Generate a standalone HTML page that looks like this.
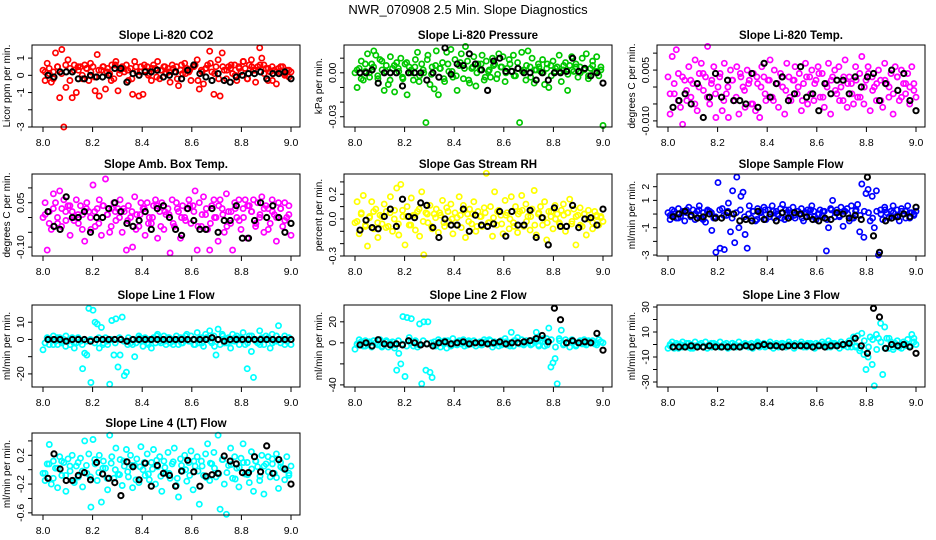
<!DOCTYPE html>
<html><head><meta charset="utf-8"><style>
html,body{margin:0;padding:0;background:#fff;}
svg{display:block;font-family:"Liberation Sans",sans-serif;}
</style></head><body>
<svg id="chart" width="936" height="540" viewBox="0 0 936 540" xmlns="http://www.w3.org/2000/svg">
<rect width="936" height="540" fill="#fff"/>
<text x="468" y="14" text-anchor="middle" font-size="13">NWR_070908  2.5 Min. Slope Diagnostics</text>
</svg>
<script>
const xTicks=[8.0,8.2,8.4,8.6,8.8,9.0];
const xTickLabels=["8.0","8.2","8.4","8.6","8.8","9.0"];
const xStart=8.0, xEnd=9.0, blackStart=8.02, blackStep=0.0245;

const co2Vals=[0.3,-0.3,0.7,0.1,-0.4,0.2,1.3,0.5,-1.3,1.5,-3.0,-0.7,0.9,0.4,-1.3,0.6,-1.0,0.3,0.5,-0.2,0.6,0.4,-0.3,0.2,0.5,-0.9,1.2,-1.2,0.3,0.5,-0.8,0.4,0.1,0.6,-0.2,0.8,-0.9,0.3,0.5,0.2,0.6,-0.3,0.4,-1.1,0.8,0.2,-1.2,0.5,-1.1,0.3,0.5,0.1,-0.3,0.6,0.4,0.8,-0.2,0.3,0.5,0.1,0.4,-0.4,0.6,0.2,0.5,-0.6,0.3,0.1,0.7,0.4,0.2,-0.3,0.5,0.6,0.9,-0.8,0.3,-0.5,0.4,0.6,1.4,0.2,-1.1,0.5,0.9,-1.2,1.3,0.3,-0.2,0.5,0.4,0.1,0.6,-0.3,0.5,0.2,0.8,0.4,-0.2,0.6,0.9,0.3,-0.4,0.5,1.6,1.0,0.6,0.4,-0.3,0.2,0.5,0.3,-0.5,0.4,0.2,0.5,0.1,0.3,-0.1,0.2];
const co2Core=[0.2,0.4,-0.2,0.5,0.1,0.6,-0.3,0.3,0.5,0.0,0.4,0.7,-0.1,0.3,0.5,0.2,-0.3,0.6,0.1,0.4,0.3,-0.2,0.5,0.2,0.6,0.0,0.4,-0.1,0.3,0.5,0.2,0.4,-0.2,0.6,0.1,0.3,0.5,-0.3,0.2,0.4,0.7,0.1,-0.2,0.5,0.3,0.6,0.0,0.4,0.8,-0.2,0.5,0.3,0.6,0.1,0.4,-0.3,0.2,0.5,0.0,0.3];
const co2Black=[0.0,-0.1,0.2,0.2,0.2,-0.2,-0.2,0.0,-0.1,-0.1,0.0,0.4,0.4,-0.4,0.1,0.0,0.2,0.2,0.3,-0.1,0.0,0.2,-0.2,0.3,0.6,0.1,-0.1,-0.3,0.1,-0.3,-0.4,-0.1,0.0,0.1,0.1,0.2,-0.2,0.1,0.1,0.2,-0.2];
const co2Ticks=[-3,-2,-1,0,1];
const co2TickLabels=["-3","","-1","0","1"];

const presVals=[0.000,-0.010,0.003,0.008,-0.005,0.001,0.013,-0.003,0.006,0.015,0.012,-0.004,0.009,0.002,-0.012,0.005,-0.008,0.011,0.003,-0.013,0.007,0.001,0.010,-0.004,0.006,-0.015,0.004,0.002,-0.005,0.009,0.014,-0.002,0.006,0.000,-0.034,0.012,-0.008,0.004,-0.011,0.015,-0.015,0.003,0.007,-0.006,0.014,0.001,0.016,-0.003,0.009,-0.012,0.005,0.013,-0.004,0.018,0.008,-0.007,0.003,0.011,-0.009,0.006,0.002,0.012,-0.005,0.008,0.001,-0.003,0.010,0.006,-0.004,0.013,0.004,0.011,-0.006,0.003,0.009,0.001,0.012,-0.002,0.007,-0.034,0.014,0.002,-0.005,0.015,0.004,0.010,-0.007,0.002,0.006,0.001,0.009,-0.008,0.003,-0.010,0.005,0.008,0.001,0.004,0.012,-0.006,0.002,0.007,-0.012,0.005,0.011,0.001,0.006,-0.003,0.004,0.010,0.002,0.013,-0.004,0.003,0.008,0.001,0.011,-0.002,0.004,-0.036];
const presCore=[0.002,-0.004,0.006,0.000,0.004,-0.002,0.008,0.001,-0.005,0.005,0.003,-0.003,0.007,0.000,0.004,-0.006,0.002,0.009,-0.001,0.005,0.003,-0.004,0.006,0.001,-0.002,0.007,0.003,-0.005,0.004,0.000,0.006,-0.003,0.002,0.005,-0.001,0.004,0.000,0.006,-0.002,0.003,0.001,0.005,-0.003,0.002,0.004,0.000,0.006,-0.002,0.003,0.001,0.005,-0.001,0.002,0.004,0.000,0.003,-0.002,0.005,0.001,0.002];
const presBlack=[0.000,0.000,0.002,-0.007,0.000,0.000,0.000,-0.009,0.000,0.000,0.000,-0.005,0.000,-0.003,0.017,-0.001,0.006,0.005,0.013,0.006,0.002,-0.012,0.008,0.010,0.001,0.001,0.003,0.000,0.000,-0.005,0.000,-0.005,0.000,0.000,0.001,0.010,0.001,0.003,-0.002,0.000,-0.007];
const presTicks=[-0.03,-0.02,-0.01,0.00,0.01];
const presTickLabels=["-0.03","","","0.00",""];

const tempVals=[0.003,-0.008,0.009,-0.002,0.011,0.004,-0.006,-0.011,0.002,-0.004,0.006,-0.003,0.001,0.008,-0.007,0.004,0.007,-0.001,0.003,0.012,-0.005,0.002,0.006,-0.009,0.000,0.004,-0.007,0.007,-0.002,-0.009,0.005,0.002,-0.004,0.006,-0.008,0.003,0.000,-0.006,0.005,0.002,-0.005,0.004,-0.007,0.001,-0.009,0.006,0.003,-0.004,0.002,0.008,-0.003,0.005,0.001,-0.006,0.004,0.000,-0.008,0.007,0.003,-0.004,0.002,0.006,-0.002,0.004,-0.007,0.001,0.007,-0.005,0.003,0.005,-0.004,0.002,0.006,-0.003,0.004,-0.006,0.001,0.007,-0.008,0.003,0.005,-0.002,0.006,0.000,-0.004,0.008,-0.006,0.003,0.001,-0.005,0.006,-0.003,0.004,0.009,-0.005,0.002,0.006,-0.007,0.003,0.000,-0.004,0.005,0.002,-0.006,0.007,0.001,-0.003,0.004,-0.008,0.006,0.003,-0.004,0.005,0.001,-0.002,0.004,-0.005,0.006,0.001,-0.003];
const tempCore=[-0.002,0.001,-0.004,0.003,-0.001,0.002,-0.005,0.000,0.004,-0.003,0.001,-0.002,0.003,-0.004,0.000,0.002,-0.003,0.004,-0.001,0.001,-0.005,0.003,0.000,-0.002,0.002,-0.004,0.001,0.003,-0.001,-0.003,0.002,0.000,-0.004,0.003,-0.002,0.001,0.004,-0.003,0.000,0.002,-0.001,-0.004,0.003,0.001,-0.002,0.002,-0.003,0.000,0.004,-0.001,0.001,-0.004,0.002,0.000,-0.002,0.003,-0.003,0.001,0.000,-0.001];
const tempBlack=[-0.006,-0.004,-0.002,-0.005,0.001,-0.009,-0.003,0.004,-0.003,0.002,-0.004,-0.004,-0.005,0.004,-0.006,0.007,-0.003,0.001,0.003,-0.004,-0.002,0.006,-0.003,-0.002,-0.007,0.001,-0.002,0.002,0.002,-0.002,0.003,0.000,0.003,0.004,-0.004,0.001,0.005,-0.001,0.004,-0.004,-0.007];
const tempTicks=[-0.010,-0.005,0.000,0.005,0.010];
const tempTickLabels=["-0.010","","","0.005",""];

const ambVals=[0.0,0.05,-0.11,0.02,-0.04,0.08,0.05,-0.02,0.09,0.03,0.06,-0.01,0.04,-0.06,0.02,0.00,0.06,-0.02,0.04,0.01,-0.08,0.05,0.02,-0.04,0.11,-0.03,0.03,0.06,-0.06,0.04,0.13,0.01,-0.05,0.03,0.05,-0.01,0.03,0.06,-0.05,0.02,-0.11,0.04,0.00,-0.10,0.07,0.01,-0.03,0.05,0.03,-0.06,0.05,0.00,-0.02,0.04,0.06,-0.07,0.02,0.05,-0.04,0.01,0.03,-0.12,0.06,-0.03,0.05,0.02,-0.07,0.04,0.00,0.03,0.06,-0.02,0.04,0.09,-0.11,0.05,-0.03,0.07,0.01,-0.04,-0.11,0.04,0.06,0.00,-0.08,0.06,0.03,-0.05,0.08,0.02,-0.02,-0.11,0.05,0.00,0.06,-0.04,0.03,0.06,-0.07,0.04,0.02,0.06,-0.03,0.05,0.00,0.07,-0.05,0.04,0.03,-0.02,0.06,0.01,-0.08,0.05,0.03,-0.03,0.05,0.00,0.04,-0.06];
const ambCore=[0.01,-0.02,0.03,0.00,-0.03,0.02,0.04,-0.01,0.01,-0.04,0.03,0.00,0.02,-0.02,0.04,0.01,-0.03,0.02,0.00,0.03,-0.01,0.02,-0.04,0.01,0.03,-0.02,0.00,0.04,-0.03,0.02,0.01,-0.02,0.03,0.00,-0.01,0.04,0.02,-0.03,0.01,0.03,-0.02,0.00,0.04,0.01,-0.03,0.02,0.03,-0.01,0.00,0.04,0.02,-0.02,0.01,0.03,-0.04,0.02,0.00,0.03,-0.01,0.01];
const ambBlack=[0.02,-0.03,-0.04,0.07,0.00,0.00,0.02,-0.05,0.00,0.00,0.03,0.05,0.02,-0.02,-0.03,-0.01,0.02,-0.04,0.03,0.04,0.00,-0.04,-0.06,0.03,-0.01,-0.04,-0.04,0.03,-0.05,-0.01,-0.01,0.04,-0.07,-0.07,-0.01,0.05,0.00,0.04,0.00,-0.05,-0.02];
const ambTicks=[-0.10,-0.05,0.00,0.05,0.10];
const ambTickLabels=["-0.10","","","0.05",""];

const rhVals=[-0.03,0.14,-0.12,0.05,0.19,-0.05,-0.22,0.02,0.14,-0.08,0.08,-0.15,0.03,-0.04,0.12,0.06,-0.06,0.18,-0.10,0.07,0.25,-0.13,0.28,0.02,-0.21,0.10,-0.05,0.17,0.03,-0.09,0.06,-0.14,0.22,-0.29,0.05,-0.03,0.11,-0.08,0.04,0.08,-0.11,0.03,0.15,-0.06,0.09,-0.02,0.12,-0.12,0.05,0.01,0.18,-0.07,0.11,-0.15,0.04,0.08,-0.04,0.14,-0.10,0.06,0.02,-0.06,0.09,0.37,-0.03,0.10,-0.14,0.22,-0.05,0.07,0.03,-0.12,0.15,0.05,-0.08,0.18,-0.03,0.10,-0.11,0.06,0.19,-0.06,0.12,0.02,-0.09,0.08,0.23,-0.13,0.04,0.10,-0.05,0.14,-0.17,0.06,0.02,-0.08,0.11,0.04,-0.03,0.07,0.12,-0.10,0.05,0.16,-0.04,0.08,-0.21,0.03,0.09,-0.06,0.04,-0.13,0.07,0.01,-0.08,0.06,0.03,-0.05,0.02,-0.02];
const rhCore=[-0.02,0.04,-0.06,0.01,0.06,-0.03,0.02,-0.07,0.05,0.00,-0.04,0.07,0.02,-0.05,0.03,0.08,-0.02,0.04,-0.06,0.01,0.05,-0.03,0.06,0.00,-0.05,0.03,0.07,-0.02,0.04,-0.06,0.02,0.05,-0.03,0.01,0.06,-0.04,0.03,0.00,-0.06,0.04,0.07,-0.02,0.02,-0.05,0.05,0.01,-0.03,0.06,0.00,-0.04,0.03,0.05,-0.02,0.02,-0.05,0.04,0.00,-0.03,0.02,0.01];
const rhBlack=[-0.09,-0.01,-0.07,-0.08,0.02,0.08,-0.06,0.16,0.02,0.01,0.13,0.11,-0.07,-0.15,0.00,-0.05,-0.05,0.08,-0.10,0.03,-0.05,-0.06,-0.04,0.06,-0.14,0.06,-0.05,-0.05,0.07,-0.15,0.01,-0.21,0.09,-0.06,-0.06,0.11,-0.07,0.00,0.01,-0.05,0.08];
const rhTicks=[-0.3,-0.2,-0.1,0.0,0.1,0.2,0.3];
const rhTickLabels=["-0.3","","","0.0","","0.2",""];

const sfVals=[0.1,-0.4,0.3,0.0,-0.3,0.4,-0.2,0.2,-0.5,0.1,0.5,-0.1,0.3,-0.4,0.2,0.6,-0.3,0.1,-0.6,0.3,0.2,-1.2,-0.3,-2.8,2.3,-2.5,0.4,-2.6,-0.1,0.8,-1.3,1.7,-2.1,2.7,-1.0,1.3,1.6,-1.5,-2.5,0.6,-0.3,0.2,-0.5,0.4,0.1,-0.2,0.5,-0.4,0.3,0.0,0.6,-0.3,0.2,-0.1,0.4,0.7,-0.4,0.1,0.3,-0.2,0.5,-0.3,0.2,0.0,0.4,-0.5,0.1,0.3,-0.2,0.6,0.2,-0.4,0.0,0.3,-0.1,0.2,-2.7,-1.0,0.4,1.0,-0.2,0.3,-0.1,0.5,-0.9,0.2,0.4,-0.5,0.6,-0.3,0.2,0.7,-1.3,2.2,-1.7,1.5,1.8,-0.5,1.3,-1.0,1.7,-3.0,0.3,-0.4,0.5,0.1,-0.3,0.2,0.6,-0.2,0.3,-0.5,0.4,0.0,0.2,0.6,-0.3,0.1,-0.1,0.2];
const sfCore=[-0.1,0.2,-0.3,0.1,0.3,-0.2,0.0,0.3,-0.4,0.2,0.1,-0.2,0.3,-0.1,0.2,-0.3,0.1,0.3,-0.2,0.0,0.2,-0.4,0.1,0.3,-0.2,0.2,0.0,-0.3,0.3,0.1,-0.1,0.2,-0.3,0.1,0.3,-0.2,0.0,0.2,-0.4,0.3,0.1,-0.2,0.2,0.0,-0.3,0.3,-0.1,0.2,0.1,-0.3,0.2,0.0,0.3,-0.2,0.1,-0.1,0.2,-0.3,0.1,0.0];
const sfBlack=[-0.2,0.0,0.2,-0.1,-0.3,-0.2,0.0,-0.3,-0.3,0.1,0.0,-0.5,-0.4,-0.5,0.2,-0.4,0.0,-0.5,0.1,-0.3,0.1,0.0,-0.2,-0.4,-0.5,-0.3,-0.4,0.1,0.0,-0.3,-0.1,-0.4,2.7,-1.6,-2.8,-0.5,-0.3,-0.2,0.0,-0.2,0.5];
const sfTicks=[-3,-2,-1,0,1,2];
const sfTickLabels=["-3","","-1","","1","2"];

const l1Vals=[-6,-2,1,-3,0,2,-1,-3,1,-2,0,2,-1,-3,1,-5,-2,0,-1,-17,-8,-9,18,-25,17,10,9,-5,7,-2,1,-3,-26,11,-9,12,-16,-9,13,-21,-19,1,-2,-3,-10,0,2,-1,-4,1,-2,0,-5,1,-2,3,-1,0,2,-3,1,-2,0,-1,2,-3,1,-2,0,3,-1,2,0,-3,4,-2,1,-4,3,0,5,-2,2,-9,6,-3,3,-2,0,1,-5,3,-1,2,0,1,4,-3,-17,2,-7,-22,0,-2,5,1,-3,2,0,-5,3,-1,2,8,-2,0,2,-1,1,-3];
const l1Core=[-2,0,-3,1,-1,-4,0,-2,1,-3,-1,0,-2,1,-3,-1,0,-2,1,-1,-3,0,-2,1,-1,-3,0,2,-2,-1,1,-3,0,-2,2,-1,-3,0,-2,1,-1,-4,0,2,-2,-1,1,-3,0,-2,2,-1,-3,0,1,-2,-1,0,-3,1];
const l1Black=[0,0,0,-1,0,0,0,-1,0,0,0,0,0,-1,0,0,0,0,0,0,0,0,0,0,0,0,0,1,0,-1,0,0,0,0,0,0,0,0,0,0,0];
const l1Ticks=[-20,-10,0,10];
const l1TickLabels=["-20","","0","10"];

const l2Vals=[-6,-1,3,0,-3,2,-1,1,-4,2,0,-2,3,-3,-1,2,-4,0,1,-5,-26,-10,-20,25,-32,24,5,23,-3,2,-4,18,-39,20,-26,20,-28,-33,1,-2,3,-4,0,2,-5,1,-3,4,0,-2,2,-1,3,0,-2,1,-1,2,-3,0,1,-2,3,0,-1,2,-4,1,0,-3,2,-1,4,-2,0,10,-3,2,5,-1,3,-2,1,0,2,-1,3,10,-2,2,1,-3,4,14,-23,-19,-15,-39,4,12,-2,3,0,-4,2,1,-3,0,2,-1,3,-2,1,0,2,-1,0,3,1,0];
const l2Core=[-2,1,-3,0,2,-1,-4,1,0,-2,2,-1,-3,0,1,-2,2,-1,0,-3,1,-1,2,-2,0,1,-3,2,-1,0,-2,1,3,-1,0,-2,1,-3,2,0,-1,2,-2,1,-3,4,-2,3,-4,2,-1,0,3,-2,1,-1,2,0,-2,1];
const l2Black=[-2,0,-3,3,-1,-2,-1,-2,2,0,-2,-1,-3,0,1,-1,0,1,-1,0,0,-1,0,1,-1,0,0,1,2,4,7,1,33,22,0,2,0,1,0,9,-7];
const l2Ticks=[-40,-20,0,20];
const l2TickLabels=["-40","","0","20"];

const l3Vals=[-3,0,2,-2,1,-3,0,2,-1,-2,1,0,-3,2,-1,0,1,-2,2,-1,0,-2,1,0,-1,2,-2,0,1,-1,-2,1,0,-1,2,-2,0,1,-1,0,1,-1,0,2,-2,0,1,-1,0,2,-1,0,1,-2,0,1,-1,0,2,-1,0,1,-1,0,2,-2,0,1,-1,0,-2,1,0,-1,2,-1,0,3,-2,1,1,-1,0,2,-1,0,1,3,-2,6,-2,7,-5,9,-8,-20,-10,6,-16,-33,8,5,17,-24,14,5,-3,2,-4,1,3,-2,0,2,-1,4,-2,8,5,0];
const l3Core=[-1,-3,0,-2,1,-3,-1,0,-2,-3,1,-1,-2,0,-3,1,-2,-1,0,-2,-3,1,-1,-2,0,-3,-1,1,-2,0,-3,-1,0,-2,1,-3,-1,0,-2,1,-1,-3,0,-2,1,-1,-3,3,-2,4,-4,2,-3,5,-2,3,-3,1,-1,2];
const l3Black=[-2,-2,-2,-1,-2,-2,-1,-2,-2,-2,-2,-2,-1,-2,-1,0,-1,-1,-2,-1,-1,-1,-1,-2,-1,-2,-1,-1,0,1,5,-1,-7,29,22,-3,0,-1,0,-2,-7];
const l3Ticks=[-30,-20,-10,0,10,20,30];
const l3TickLabels=["-30","","-10","","10","","30"];

const l4Vals=[-0.05,-0.15,0.08,0.35,-0.20,0.12,0.02,-0.25,0.18,-0.08,0.10,-0.30,0.15,-0.02,0.20,-0.18,0.05,-0.10,0.16,-0.24,0.40,-0.05,0.22,-0.52,0.42,0.08,-0.15,0.20,-0.45,0.12,0.02,-0.28,0.48,0.18,-0.12,0.30,-0.06,0.14,-0.22,0.05,0.28,-0.10,0.20,-0.25,0.06,0.15,-0.18,0.32,0.00,-0.08,0.22,-0.14,0.10,0.28,-0.20,0.04,0.18,-0.30,0.12,-0.05,0.24,-0.12,0.08,0.30,-0.22,-0.38,0.15,-0.02,0.20,-0.16,0.10,0.26,-0.28,0.05,0.18,-0.48,0.12,-0.08,0.22,0.36,-0.15,0.08,0.24,-0.10,0.48,-0.55,0.14,-0.20,-0.62,0.06,0.30,-0.12,0.18,0.02,-0.24,0.16,0.36,-0.06,0.10,-0.18,0.25,-0.30,0.12,0.04,-0.15,0.20,-0.34,0.08,0.18,-0.10,0.15,-0.05,0.22,-0.26,0.10,0.02,-0.14,0.18,-0.08,0.05];
const l4Core=[-0.05,0.08,-0.12,0.02,0.12,-0.08,0.05,-0.15,0.10,-0.02,0.06,-0.10,0.14,-0.04,0.02,-0.12,0.09,0.00,-0.07,0.12,-0.03,0.06,-0.14,0.04,0.10,-0.06,0.01,0.13,-0.09,0.03,-0.05,0.11,-0.12,0.06,0.00,-0.08,0.12,-0.02,0.05,-0.11,0.09,0.02,-0.06,0.14,-0.04,0.07,-0.13,0.03,0.10,-0.07,0.01,0.12,-0.09,0.05,-0.03,0.08,-0.11,0.04,0.00,-0.05];
const l4Black=[-0.12,0.22,0.01,-0.15,-0.15,-0.08,-0.04,-0.14,0.10,-0.06,-0.12,-0.18,-0.36,0.11,0.04,-0.14,0.09,-0.23,0.06,-0.05,-0.08,-0.23,-0.02,0.13,-0.03,-0.23,-0.09,-0.07,-0.05,0.19,0.12,0.08,-0.04,-0.04,0.18,-0.03,0.33,-0.05,0.14,0.01,-0.20];
const l4Ticks=[-0.6,-0.4,-0.2,0.0,0.2,0.4];
const l4TickLabels=["-0.6","","-0.2","","0.2",""];

const panels=[
 {key:'co2',title:'Slope Li-820 CO2',ylab:'Licor ppm per min.',color:'#ff0000',vals:co2Vals,core:co2Core,black:co2Black,ticks:co2Ticks,tl:co2TickLabels,ymin:-3,ymax:1.76,col:0,row:0},
 {key:'pressure',title:'Slope Li-820 Pressure',ylab:'kPa per min.',color:'#00c800',vals:presVals,core:presCore,black:presBlack,ticks:presTicks,tl:presTickLabels,ymin:-0.037,ymax:0.019,col:1,row:0},
 {key:'temp',title:'Slope Li-820 Temp.',ylab:'degrees C per min.',color:'#ff00ff',vals:tempVals,core:tempCore,black:tempBlack,ticks:tempTicks,tl:tempTickLabels,ymin:-0.0118,ymax:0.0124,col:2,row:0},
 {key:'amb-box-temp',title:'Slope Amb. Box Temp.',ylab:'degrees C per min.',color:'#ff00ff',vals:ambVals,core:ambCore,black:ambBlack,ticks:ambTicks,tl:ambTickLabels,ymin:-0.13,ymax:0.147,col:0,row:1},
 {key:'gas-rh',title:'Slope Gas Stream RH',ylab:'percent per min.',color:'#ffff00',vals:rhVals,core:rhCore,black:rhBlack,ticks:rhTicks,tl:rhTickLabels,ymin:-0.3,ymax:0.364,col:1,row:1},
 {key:'sample-flow',title:'Slope Sample Flow',ylab:'ml/min per min.',color:'#0000ff',vals:sfVals,core:sfCore,black:sfBlack,ticks:sfTicks,tl:sfTickLabels,ymin:-3.07,ymax:2.93,col:2,row:1},
 {key:'line1-flow',title:'Slope Line 1 Flow',ylab:'ml/min per min.',color:'#00ffff',vals:l1Vals,core:l1Core,black:l1Black,ticks:l1Ticks,tl:l1TickLabels,ymin:-27.6,ymax:20,col:0,row:2},
 {key:'line2-flow',title:'Slope Line 2 Flow',ylab:'ml/min per min.',color:'#00ffff',vals:l2Vals,core:l2Core,black:l2Black,ticks:l2Ticks,tl:l2TickLabels,ymin:-42,ymax:36,col:1,row:2},
 {key:'line3-flow',title:'Slope Line 3 Flow',ylab:'ml/min per min.',color:'#00ffff',vals:l3Vals,core:l3Core,black:l3Black,ticks:l3Ticks,tl:l3TickLabels,ymin:-34,ymax:31.6,col:2,row:2},
 {key:'line4-flow',title:'Slope Line 4 (LT) Flow',ylab:'ml/min per min.',color:'#00ffff',vals:l4Vals,core:l4Core,black:l4Black,ticks:l4Ticks,tl:l4TickLabels,ymin:-0.63,ymax:0.51,col:0,row:3}
];

const NS='http://www.w3.org/2000/svg';
const svg=document.getElementById('chart');
const colLeft=[32,344,657], rowTop=[45,174,305,433], BW=268, BH=82;
function mk(tag,attrs,parent){const e=document.createElementNS(NS,tag);for(const k in attrs)e.setAttribute(k,attrs[k]);(parent||svg).appendChild(e);return e;}

panels.forEach(p=>{
  const L=colLeft[p.col], T=rowTop[p.row];
  const g=mk('g',{});
  
  
  const xs=v=>L+11+(v-xStart)/(xEnd-xStart)*248;
  const ys=v=>T+BH-(v-p.ymin)/(p.ymax-p.ymin)*BH;
  const t=mk('text',{x:L+BW/2,y:T-6,'text-anchor':'middle','font-size':'11.5','font-weight':'bold'},g);
  t.textContent=p.title;
  
  
  const pts=mk('g',{fill:'none',stroke:p.color,'stroke-width':'1.7'},g);
  
  
  const nc=p.core.length;
  p.core.forEach((v,i)=>{
    const c=mk('circle',{cx:xs(xStart+(i+0.5)*(xEnd-xStart)/nc).toFixed(1),cy:ys(v).toFixed(1),r:'2.6'},pts);
    
    
  });
  const n=p.vals.length;
  p.vals.forEach((v,i)=>{
    const c=mk('circle',{cx:xs(xStart+i*(xEnd-xStart)/(n-1)).toFixed(1),cy:ys(v).toFixed(1),r:'2.6'},pts);
    
    
  });
  const bp=mk('g',{fill:'none',stroke:'#000','stroke-width':'2'},g);
  
  
  p.black.forEach((v,i)=>{
    const c=mk('circle',{cx:xs(blackStart+i*blackStep).toFixed(1),cy:ys(v).toFixed(1),r:'2.6'},bp);
    
    
  });
  const box=mk('rect',{x:L,y:T,width:BW,height:BH,fill:'none',stroke:'#000','stroke-width':'1'},g);
  
  
  const xa=mk('g',{},g);
  
  
  mk('line',{x1:xs(xTicks[0]),x2:xs(xTicks[xTicks.length-1]),y1:T+BH,y2:T+BH,stroke:'#000'},xa);
  xTicks.forEach((v,i)=>{
    mk('line',{x1:xs(v),x2:xs(v),y1:T+BH,y2:T+BH+5,stroke:'#000'},xa);
    const tx=mk('text',{x:xs(v),y:T+BH+19,'text-anchor':'middle','font-size':'10.5'},xa);
    tx.textContent=xTickLabels[i];
    
    
  });
  const ya=mk('g',{},g);
  
  
  mk('line',{x1:L,x2:L,y1:ys(p.ticks[0]),y2:ys(p.ticks[p.ticks.length-1]),stroke:'#000'},ya);
  p.ticks.forEach((v,i)=>{
    const y=ys(v);
    mk('line',{x1:L-4,x2:L,y1:y,y2:y,stroke:'#000'},ya);
    if(p.tl[i]){
      const tx=mk('text',{x:L-8,y:y,'text-anchor':'middle','font-size':'10.5',transform:'rotate(-90 '+(L-8)+' '+y+')'},ya);
      tx.textContent=p.tl[i];
      
      
    }
  });
  const yl=L-22, ym=T+BH/2;
  const yt=mk('text',{x:yl,y:ym,'text-anchor':'middle','font-size':'10',transform:'rotate(-90 '+yl+' '+ym+')'},g);
  yt.textContent=p.ylab;
  
  
});
</script>
</body></html>
